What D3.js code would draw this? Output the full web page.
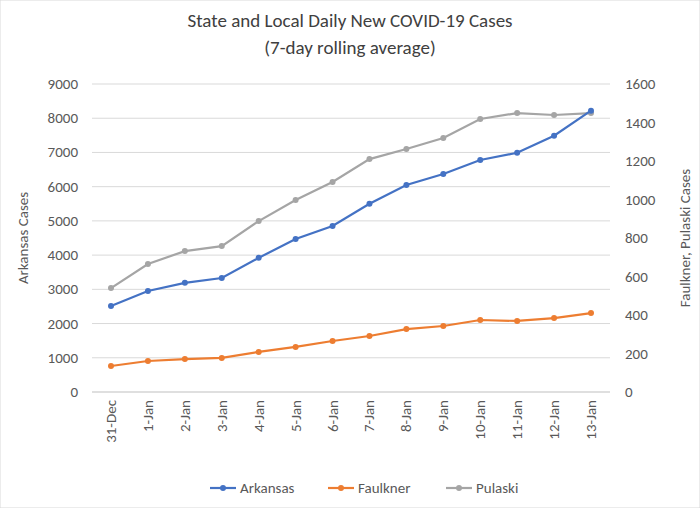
<!DOCTYPE html>
<html><head><meta charset="utf-8">
<script src="https://cdn.jsdelivr.net/npm/d3@7"></script>
<style>body{margin:0;background:#fff}svg{font-family:Calibri,Carlito,"Liberation Sans",Arial,sans-serif}</style>
</head><body><svg id="c" width="700" height="508"></svg>
<script>
const categories=["31-Dec","1-Jan","2-Jan","3-Jan","4-Jan","5-Jan","6-Jan","7-Jan","8-Jan","9-Jan","10-Jan","11-Jan","12-Jan","13-Jan"];
const arkansas=[2510,2950,3190,3330,3920,4470,4850,5500,6050,6370,6780,6990,7490,8220];
const faulkner=[135,161,171,177,208,234,265,291,327,343,374,369,384,410];
const pulaski=[540,665,732,758,888,997,1091,1210,1262,1319,1418,1449,1439,1449];
const leftTicks=[0,1000,2000,3000,4000,5000,6000,7000,8000,9000];
const rightTicks=[0,200,400,600,800,1000,1200,1400,1600];
const colors={Arkansas:"#4472C4",Faulkner:"#ED7D31",Pulaski:"#A5A5A5"};

const svg=d3.select("#c");
svg.append("rect").attr("width",700).attr("height",508).attr("fill","#fff").attr("stroke","#d9d9d9");
const x=d3.scalePoint().domain(categories).range([111,591]);
const yL=d3.scaleLinear().domain([0,9000]).range([392,84]);
const yR=d3.scaleLinear().domain([0,1600]).range([392,84]);

svg.append("text").attr("x",350).attr("y",27).attr("text-anchor","middle").attr("font-size",19).attr("fill","#404040").text("State and Local Daily New COVID-19 Cases");
svg.append("text").attr("x",350).attr("y",54).attr("text-anchor","middle").attr("font-size",19).attr("fill","#404040").text("(7-day rolling average)");

svg.selectAll(".g").data(leftTicks).join("line").attr("x1",92).attr("x2",610).attr("y1",d=>yL(d)).attr("y2",d=>yL(d)).attr("stroke",(d)=>d===0?"#bfbfbf":"#d9d9d9");
svg.selectAll(".lt").data(leftTicks).join("text").attr("x",78).attr("y",d=>yL(d)+5).attr("text-anchor","end").attr("font-size",15).attr("fill","#595959").text(d=>d);
svg.selectAll(".rt").data(rightTicks).join("text").attr("x",625).attr("y",d=>yR(d)+5).attr("font-size",15).attr("fill","#595959").text(d=>d);
svg.selectAll(".xt").data(categories).join("text").attr("transform",d=>`translate(${x(d)+5},400) rotate(-90)`).attr("text-anchor","end").attr("font-size",15).attr("fill","#595959").text(d=>d);
svg.append("text").attr("transform","translate(28,238) rotate(-90)").attr("text-anchor","middle").attr("font-size",15).attr("fill","#595959").text("Arkansas Cases");
svg.append("text").attr("transform","translate(690,238) rotate(-90)").attr("text-anchor","middle").attr("font-size",15).attr("fill","#595959").text("Faulkner, Pulaski Cases");

function series(vals,y,c){
  svg.append("path").datum(vals).attr("fill","none").attr("stroke",c).attr("stroke-width",2.2)
    .attr("d",d3.line().x((d,i)=>x(categories[i])).y(d=>y(d)));
  svg.selectAll(null).data(vals).join("circle").attr("cx",(d,i)=>x(categories[i])).attr("cy",d=>y(d)).attr("r",3).attr("fill",c);
}
series(pulaski,yR,colors.Pulaski);
series(faulkner,yR,colors.Faulkner);
series(arkansas,yL,colors.Arkansas);

const leg=[["Arkansas",210],["Faulkner",328],["Pulaski",446]];
leg.forEach(([n,lx])=>{
  svg.append("line").attr("x1",lx).attr("x2",lx+26).attr("y1",488).attr("y2",488).attr("stroke",colors[n]).attr("stroke-width",2.2);
  svg.append("circle").attr("cx",lx+13).attr("cy",488).attr("r",3).attr("fill",colors[n]);
  svg.append("text").attr("x",lx+30).attr("y",493).attr("font-size",15).attr("fill","#595959").text(n);
});
</script></body></html>
